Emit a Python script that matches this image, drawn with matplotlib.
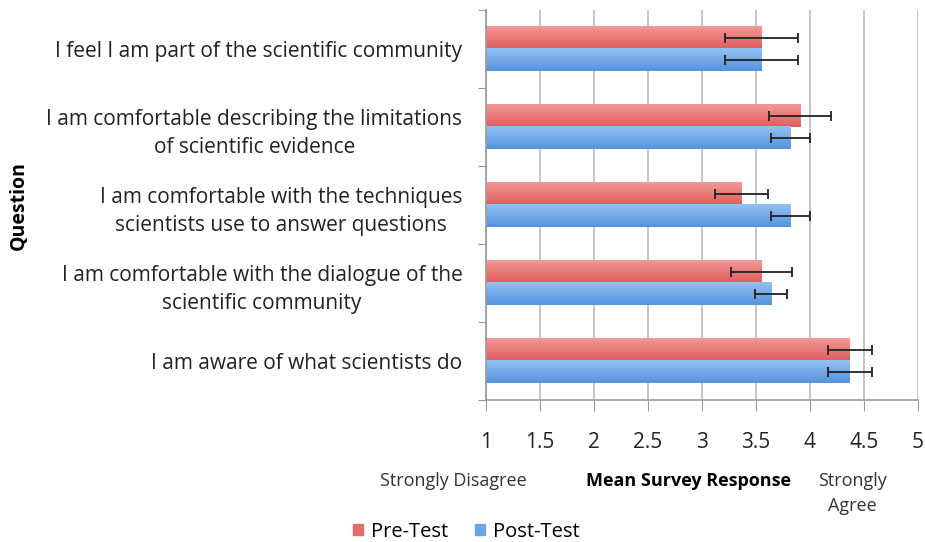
import numpy as np
from matplotlib import pyplot as plt
from matplotlib.patches import Patch
from matplotlib.colors import to_rgb

plt.rcParams['font.family'] = ['Open Sans', 'DejaVu Sans']

questions = [
    'I feel I am part of the scientific community',
    'I am comfortable describing the limitations\nof scientific evidence',
    'I am comfortable with the techniques\nscientists use to answer questions',
    'I am comfortable with the dialogue of the\nscientific community',
    'I am aware of what scientists do',
]
pre_mean = [3.55, 3.91, 3.37, 3.55, 4.37]
pre_err = [0.34, 0.285, 0.245, 0.285, 0.205]
post_mean = [3.55, 3.82, 3.82, 3.64, 4.37]
post_err = [0.34, 0.18, 0.18, 0.15, 0.205]
xticks = [1, 1.5, 2, 2.5, 3, 3.5, 4, 4.5, 5]

RED = '#E66C69'
BLUE = '#6CA5E6'
RED_LIGHT, RED_DARK = '#F39896', '#DE5E5C'
BLUE_LIGHT, BLUE_DARK = '#93C1F2', '#5593DC'


def gradient_fill(ax, bars, c_top, c_bot):
    # paint a vertical gradient over each bar
    t = np.linspace(0, 1, 32)[:, None, None]
    img = (1 - t) * np.array(to_rgb(c_top)) + t * np.array(to_rgb(c_bot))
    for b in bars:
        x0, y0, w, hh = b.get_x(), b.get_y(), b.get_width(), b.get_height()
        ax.imshow(img, extent=(x0, x0 + w, y0 + hh, y0), origin='upper',
                  aspect='auto', zorder=2, interpolation='bilinear')
        b.set_alpha(0)


fig = plt.figure(figsize=(9.25, 5.42), dpi=100)
ax = fig.add_axes([0.5254, 0.262, 0.4670, 0.7195])

y = np.arange(len(questions))
h = 0.286
bars_pre = ax.barh(y - h / 2, np.array(pre_mean) - 1, left=1, height=h, color=RED, zorder=2)
bars_post = ax.barh(y + h / 2, np.array(post_mean) - 1, left=1, height=h, color=BLUE, zorder=2)
gradient_fill(ax, bars_pre, RED_LIGHT, RED_DARK)
gradient_fill(ax, bars_post, BLUE_LIGHT, BLUE_DARK)

ax.errorbar(pre_mean, y - h / 2, xerr=pre_err, fmt='none', ecolor='#222222',
            elinewidth=1.3, capsize=3.5, capthick=1.3, zorder=3)
ax.errorbar(post_mean, y + h / 2, xerr=post_err, fmt='none', ecolor='#222222',
            elinewidth=1.3, capsize=3.5, capthick=1.3, zorder=3)

ax.set_xlim(1, 5)
ax.set_ylim(len(questions) - 0.5, -0.5)
ax.set_xticks(xticks)
ax.set_xticklabels([f'{t:g}' for t in xticks], fontsize=15, color='#222222')
ax.tick_params(axis='x', direction='out', length=8, pad=15, color='#999999')
ax.grid(axis='x', color='#BBBBBB', linewidth=1.2, zorder=0)

ax.set_yticks(np.arange(-0.5, len(questions), 1.0))
ax.set_yticklabels([])
ax.tick_params(axis='y', which='major', direction='out', length=6, color='#999999')
ax.set_yticks(y, minor=True)
ax.set_yticklabels(questions, minor=True, fontsize=15, ha='right',
                   multialignment='center', color='#222222', linespacing=1.45)
ax.tick_params(axis='y', which='minor', length=0, pad=17)

for s in ['top', 'right']:
    ax.spines[s].set_visible(False)
for s in ['left', 'bottom']:
    ax.spines[s].set_color('#999999')
    ax.spines[s].set_linewidth(1.2)

fig.text(0.02, 0.62, 'Question', rotation=90, fontsize=14, fontweight='bold',
         ha='center', va='center')
fig.text(0.49, 0.113, 'Strongly Disagree', fontsize=13, ha='center', va='center', color='#333333')
fig.text(0.744, 0.113, 'Mean Survey Response', fontsize=13, fontweight='bold',
         ha='center', va='center')
fig.text(0.922, 0.089, 'Strongly\nAgree', fontsize=13, ha='center', va='center',
         color='#333333', linespacing=1.5)

handles = [Patch(color=RED, label='Pre-Test'), Patch(color=BLUE, label='Post-Test')]
fig.legend(handles=handles, loc='center', bbox_to_anchor=(0.504, 0.019), ncol=2,
           frameon=False, fontsize=14.5, handlelength=0.5, handleheight=0.5,
           handletextpad=0.4, columnspacing=1.3, borderpad=0)

fig.savefig('out.png', dpi=100)
